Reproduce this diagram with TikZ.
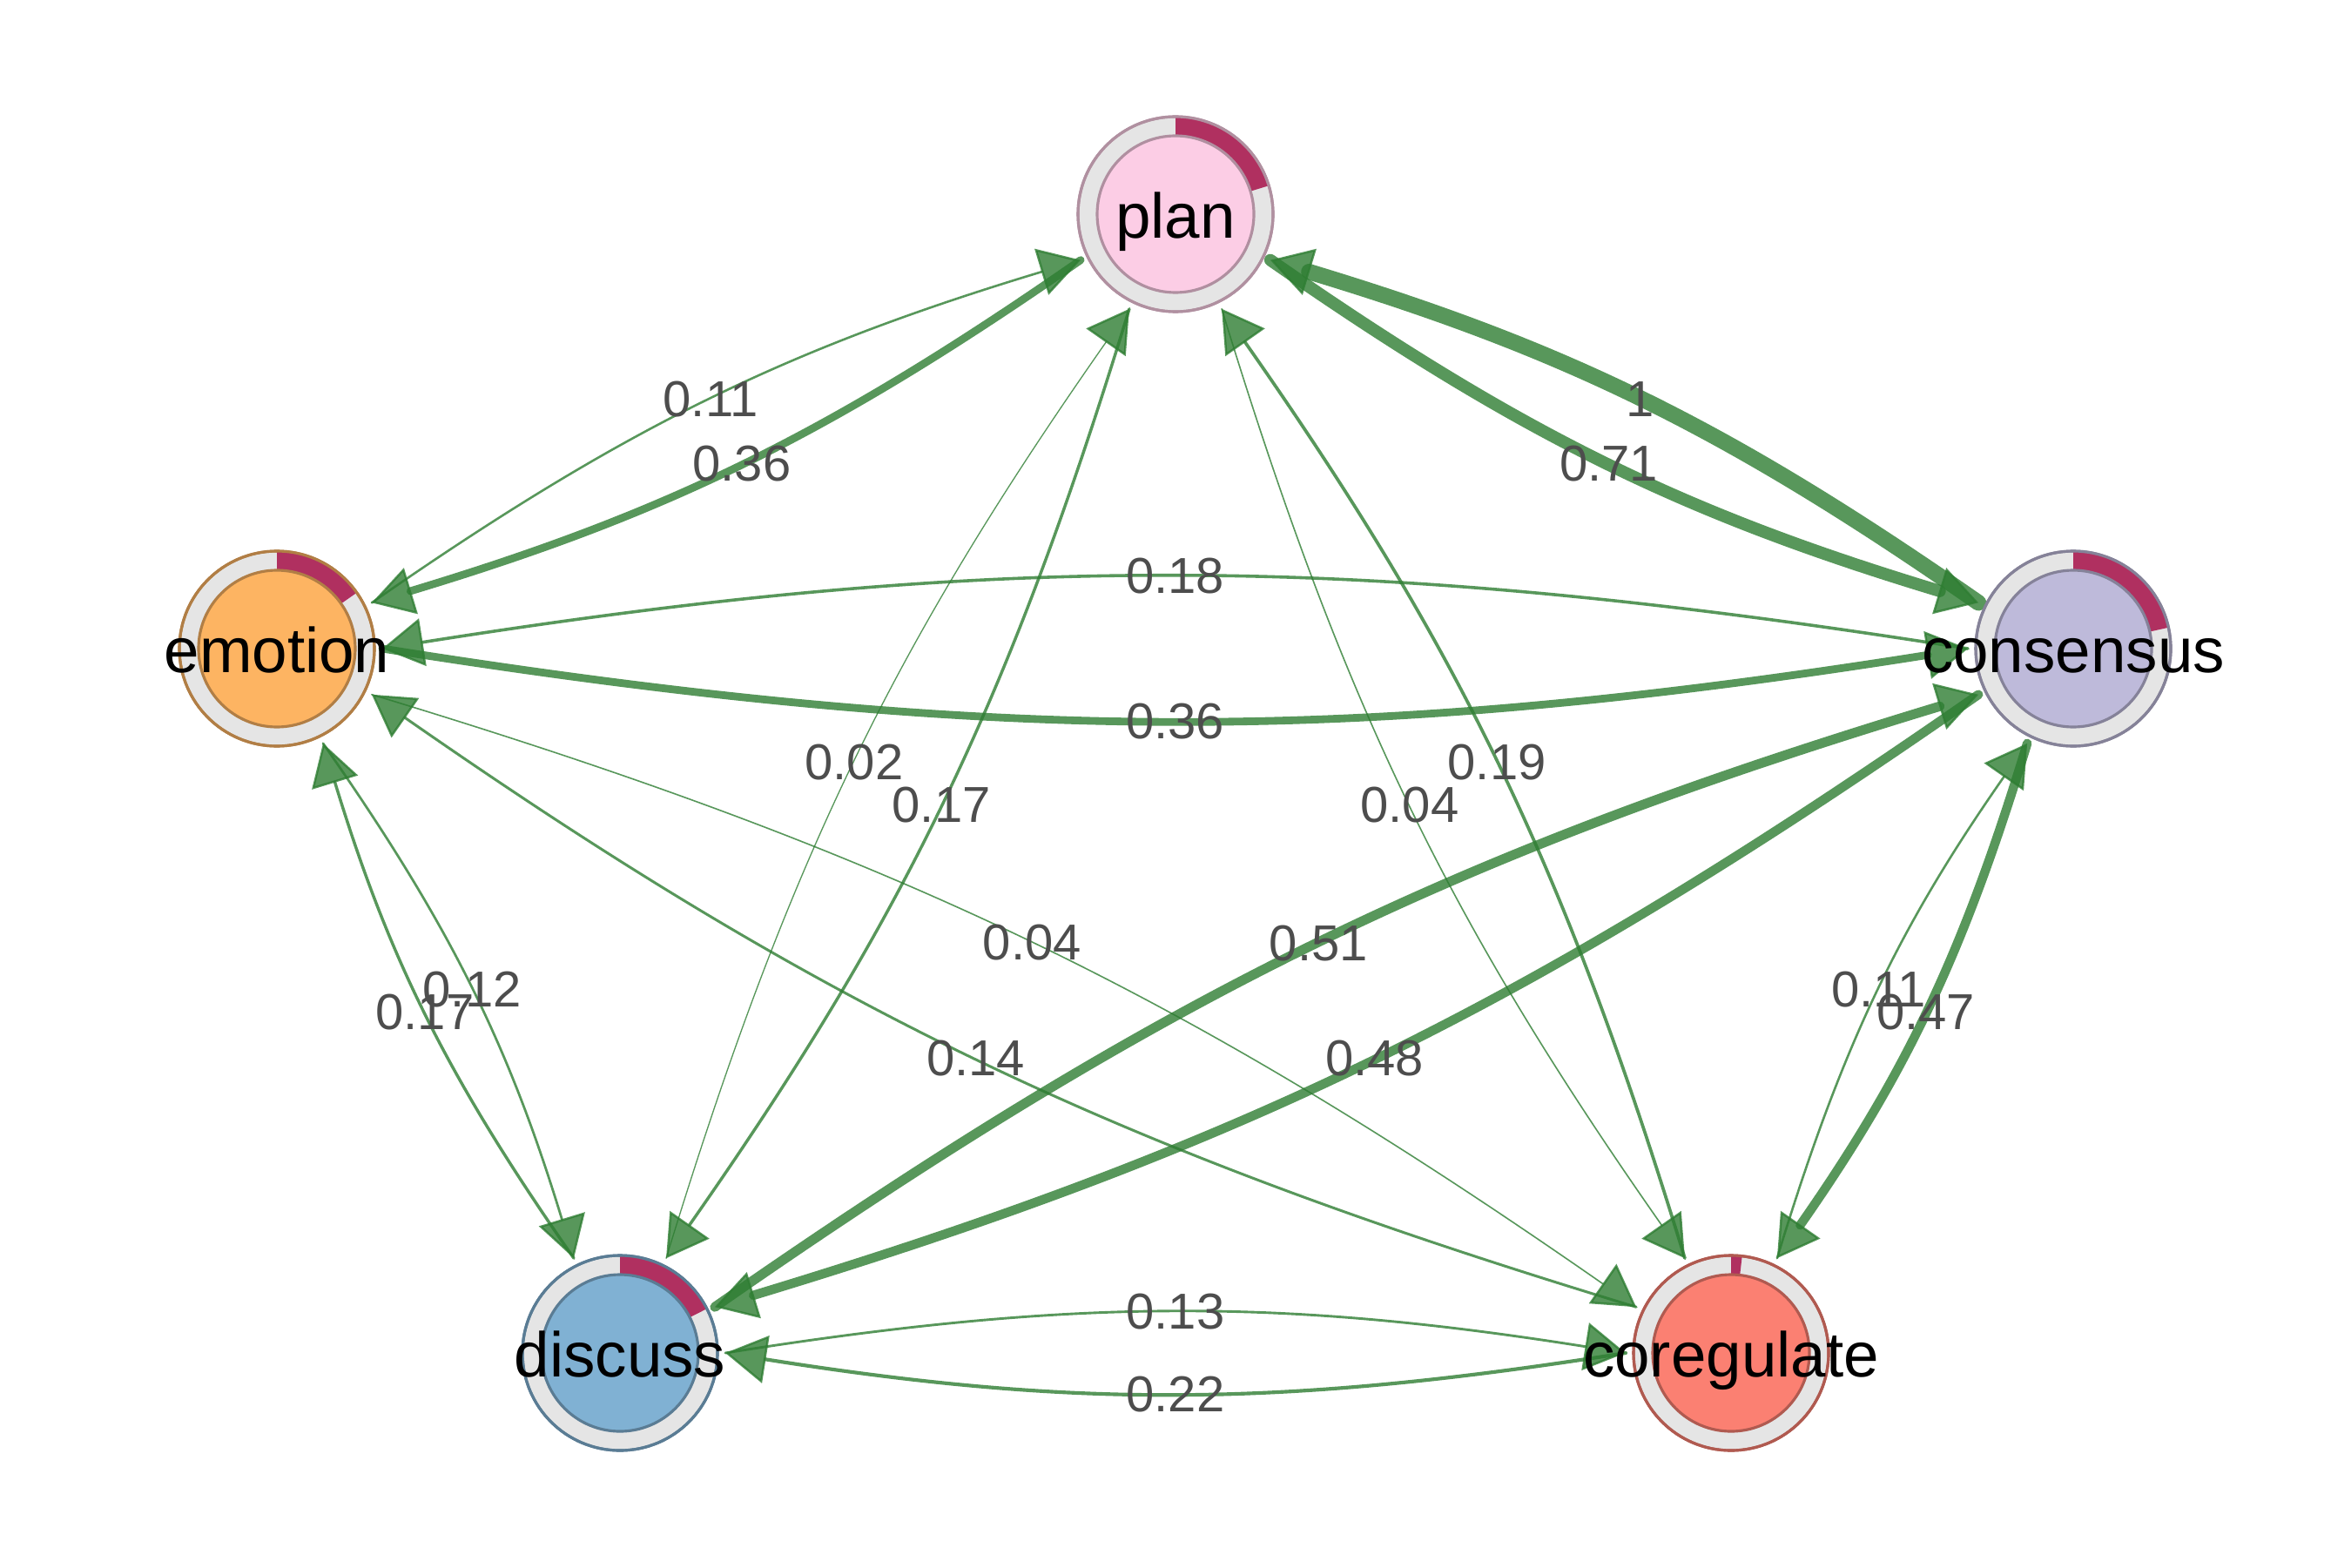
\documentclass[tikz,border=0pt]{standalone}
\usepackage{fontspec}
\setmainfont{Liberation Sans}
\usepackage{xcolor}
\definecolor{cplan}{HTML}{FCCDE5}
\definecolor{cemotion}{HTML}{FDB462}
\definecolor{cconsensus}{HTML}{BEBADA}
\definecolor{cdiscuss}{HTML}{80B1D3}
\definecolor{ccoregulate}{HTML}{FB8072}
\definecolor{anel}{RGB}{229,229,229}
\definecolor{bordo}{RGB}{176,48,96}
\definecolor{verde}{RGB}{46,125,50}
\definecolor{cinza}{RGB}{77,77,77}
\usetikzlibrary{arrows.meta, calc}

\begin{document}
\begin{tikzpicture}[> = {Triangle[length=4.7mm, width=5.5mm, line width=0.7pt]},
		estado/.style = {circle, minimum size=22.4mm, inner sep=0pt},
		aresta/.style = {->, verde, opacity=0.8, line cap=round},
		rotulo/.style = {text=cinza, opacity=1, font=\fontsize{16.5}{18}\selectfont, inner sep=1pt}]
			\useasboundingbox (0,0) rectangle (27,18);
			
			\node [estado] (plan) at (13.50,15.54) {};
			\node [estado] (emotion) at (3.18,10.55) {};
			\node [estado] (consensus) at (23.81,10.55) {};
			\node [estado] (discuss) at (7.12,2.46) {};
			\node [estado] (coregulate) at (19.88,2.46) {};
			
			\foreach \s/\t/\w/\b in {emotion/plan/0.11/9, plan/emotion/0.36/9,
				consensus/plan/1/-9, plan/consensus/0.71/-9,
				consensus/emotion/0.18/-9, emotion/consensus/0.36/-9,
				discuss/plan/0.02/9, plan/discuss/0.17/9,
				coregulate/plan/0.19/-9, plan/coregulate/0.04/-9,
				emotion/discuss/0.12/9, discuss/emotion/0.17/9,
				emotion/coregulate/0.04/9, coregulate/emotion/0.14/9,
				discuss/consensus/0.51/9, consensus/discuss/0.48/9,
				consensus/coregulate/0.47/9, coregulate/consensus/0.11/9,
				discuss/coregulate/0.13/9, coregulate/discuss/0.22/9}
			{
				\pgfmathsetmacro{\lw}{\w<0.3 ? 0.3+4*\w : 1.0+4.2*\w}
				\draw [aresta, line width=\lw pt] ($(\s)!1.21cm!(\t)$) to [bend left=\b]
					node [rotulo] {\w} ($(\t)!1.21cm!(\s)$);
			}
			
			\foreach \n/\e in {plan/17, emotion/35, consensus/12.5, discuss/27, coregulate/83.5}
			{
				\filldraw [fill=anel, draw=c\n!70!black, line width=0.9pt] (\n.center) circle (1.12);
				\fill [bordo] ([shift={(90:1.12)}]\n.center) arc [start angle=90, end angle=\e, radius=1.12]
					-- ([shift={(\e:0.9)}]\n.center) arc [start angle=\e, end angle=90, radius=0.9] -- cycle;
				\draw [c\n!70!black, line width=0.9pt] (\n.center) circle (1.12);
				\filldraw [fill=c\n, draw=c\n!70!black, line width=0.9pt] (\n.center) circle (0.9);
				\node [anchor=base, font=\fontsize{20.7}{24}\selectfont] at ([yshift=-2.75mm]\n.center) {\n};
			}
		\end{tikzpicture}
\end{document}
